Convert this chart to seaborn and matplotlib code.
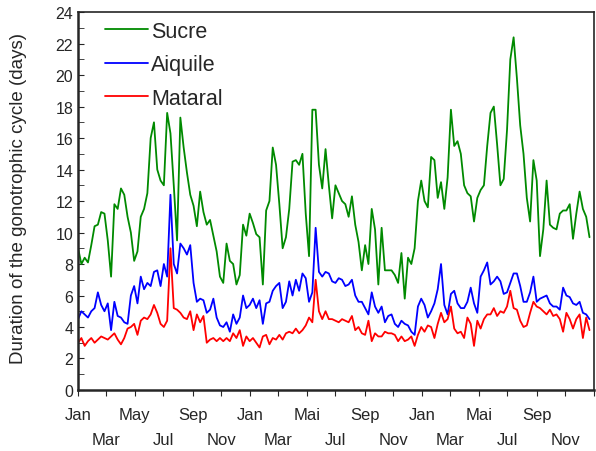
import matplotlib
matplotlib.use("Agg")
import matplotlib.pyplot as plt
import seaborn as sns
import numpy as np
import pandas as pd

# weekly estimates, three years Jan -> Dec
sucre = [9.0, 8.0, 8.4, 8.1, 9.2, 10.4, 10.5, 11.3, 11.2, 9.5, 7.2, 11.8, 11.5, 12.8, 12.4, 11.0,
         10.0, 8.2, 8.8, 11.0, 11.5, 12.5, 16.0, 17.0, 14.0, 13.3, 13.0, 17.6, 16.3, 13.0, 9.5, 17.3,
         15.4, 13.8, 12.4, 11.7, 10.4, 12.6, 11.3, 10.5, 10.8, 9.8, 8.8, 7.2, 6.8, 9.3, 8.2, 8.0,
         6.7, 7.3, 10.5, 9.8, 11.2, 10.6, 9.9, 9.7, 6.7, 11.4, 12.0, 15.4, 14.3, 11.8, 9.0, 9.7,
         11.5, 14.5, 14.6, 14.3, 15.0, 11.2, 8.5, 17.8, 17.8, 14.3, 12.8, 15.3, 13.0, 10.9, 13.0, 12.5,
         12.0, 11.8, 11.0, 12.3, 10.5, 9.4, 7.6, 9.2, 8.0, 11.5, 10.2, 6.7, 10.3, 7.6, 7.6, 7.6,
         7.3, 6.8, 8.7, 5.8, 8.4, 8.0, 9.0, 12.0, 13.3, 12.0, 11.6, 14.8, 14.6, 12.2, 13.2, 11.5,
         13.5, 17.8, 15.5, 15.8, 15.0, 13.0, 12.5, 12.3, 10.7, 12.2, 12.7, 13.0, 15.5, 17.6, 18.0, 15.6,
         13.0, 13.4, 16.5, 21.0, 22.4, 19.8, 16.8, 15.0, 12.2, 10.7, 14.6, 13.3, 8.5, 10.2, 13.3, 10.5,
         10.3, 10.2, 11.2, 11.4, 11.4, 11.8, 9.6, 11.2, 12.6, 11.5, 11.0, 9.7]
aiquile = [4.5, 5.0, 4.8, 4.6, 5.0, 5.2, 6.2, 5.4, 5.0, 5.5, 3.8, 5.6, 4.7, 4.6, 4.3, 4.2,
           6.0, 6.6, 5.5, 7.2, 6.4, 6.8, 6.6, 7.5, 7.6, 6.6, 8.0, 7.2, 12.4, 8.0, 7.4, 9.3,
           9.0, 8.6, 9.2, 6.8, 5.6, 5.8, 5.7, 4.9, 5.1, 5.8, 4.6, 4.1, 4.0, 4.3, 3.7, 4.8,
           4.2, 4.6, 6.0, 5.2, 5.4, 5.8, 5.2, 5.7, 4.2, 5.5, 5.6, 6.3, 6.6, 6.8, 5.2, 5.6,
           6.9, 6.0, 7.0, 6.3, 7.4, 7.1, 5.6, 6.2, 10.3, 7.5, 7.2, 7.5, 7.4, 6.9, 6.8, 7.1,
           7.0, 6.6, 6.7, 7.0, 6.0, 5.6, 5.6, 5.2, 4.8, 6.2, 5.3, 4.9, 5.3, 4.3, 4.7, 4.8,
           4.2, 4.0, 4.4, 4.2, 4.1, 3.7, 3.5, 5.3, 5.8, 5.4, 4.6, 5.0, 5.5, 6.4, 8.0, 5.4,
           4.8, 6.1, 6.3, 5.5, 5.2, 5.2, 5.6, 6.5, 5.5, 4.9, 7.2, 7.6, 8.1, 6.7, 6.9, 7.2,
           6.9, 6.1, 6.2, 6.8, 7.4, 7.4, 6.6, 5.6, 5.6, 6.2, 7.2, 5.6, 5.8, 5.9, 6.0, 5.5,
           5.3, 5.3, 5.1, 6.5, 6.0, 5.9, 5.5, 5.4, 5.6, 4.9, 4.8, 4.5]
mataral = [3.0, 3.3, 2.8, 3.1, 3.3, 3.0, 3.2, 3.4, 3.3, 3.2, 3.4, 3.6, 3.2, 2.9, 3.3, 3.9,
           4.0, 4.2, 3.5, 4.4, 4.6, 4.5, 4.8, 5.4, 4.9, 4.2, 4.0, 4.4, 9.0, 5.2, 5.1, 4.9,
           4.6, 4.5, 5.0, 3.8, 4.8, 4.3, 4.7, 3.0, 3.2, 3.3, 3.1, 3.3, 3.1, 3.3, 3.1, 3.6,
           3.3, 3.8, 2.8, 3.4, 3.1, 3.3, 3.0, 2.7, 3.4, 3.5, 2.9, 3.3, 3.2, 3.5, 3.2, 3.6,
           3.7, 3.6, 3.9, 3.6, 3.8, 4.1, 4.6, 4.3, 7.0, 5.0, 4.5, 5.0, 4.5, 4.5, 4.4, 4.3,
           4.5, 4.4, 4.3, 4.7, 3.8, 4.0, 3.6, 3.5, 4.4, 3.1, 3.6, 3.4, 3.4, 3.7, 3.6, 3.6,
           3.5, 3.1, 3.4, 3.1, 3.2, 3.4, 2.8, 3.5, 4.0, 3.7, 4.1, 4.0, 3.3, 4.2, 4.9, 4.3,
           4.5, 5.3, 3.9, 3.6, 3.7, 3.3, 4.6, 4.2, 2.8, 4.4, 3.9, 4.5, 4.8, 4.8, 5.2, 4.7,
           5.0, 4.9, 5.3, 6.3, 5.2, 5.1, 4.4, 4.0, 4.1, 4.9, 5.6, 5.3, 5.2, 5.0, 4.8, 5.1,
           4.7, 4.8, 4.5, 3.7, 4.9, 4.5, 3.9, 4.5, 4.8, 3.3, 4.6, 3.8]

dates = pd.date_range('2001-01-01', periods=len(sucre), freq='7D')
month_ticks = pd.date_range('2001-01-01', '2004-01-01', freq='2MS')
# tick labels as printed on the original (year 1 "May", later years "Mai")
tick_names = ['Jan', 'Mar', 'May', 'Jul', 'Sep', 'Nov',
              'Jan', 'Mar', 'Mai', 'Jul', 'Sep', 'Nov',
              'Jan', 'Mar', 'Mai', 'Jul', 'Sep', 'Nov', '']

sns.set_style('ticks')
plt.rcParams['font.family'] = ['Liberation Sans', 'DejaVu Sans']

fig = plt.figure(figsize=(5.96, 4.52), dpi=100)
ax = fig.add_axes([0.131, 0.135, 0.866, 0.836])

series = [('Sucre', sucre, '#008a00'), ('Aiquile', aiquile, '#0000ff'), ('Mataral', mataral, '#ff0000')]
for name, vals, col in series:
    sns.lineplot(x=dates, y=vals, ax=ax, color=col, linewidth=1.3, label=name)

ax.set_xlim(pd.Timestamp('2001-01-01'), pd.Timestamp('2004-01-01'))
ax.set_ylim(0, 24)
ax.set_yticks(np.arange(0, 25, 2))
ax.set_yticks(np.arange(0, 25, 1), minor=True)
ax.tick_params(axis='y', which='both', direction='in', length=4, labelsize=11.5)

ax.set_xticks(month_ticks)
labels = [nm if i % 2 == 0 else '\n' + nm for i, nm in enumerate(tick_names)]
ax.set_xticklabels(labels)
ax.tick_params(axis='x', direction='out', length=4, labelsize=12, pad=8)
for t in ax.get_xticklabels():
    t.set_linespacing(1.9)
    t.set_verticalalignment('top')

ax.set_xlabel('')
ax.set_ylabel('Duration of the gonotrophic cycle (days)', fontsize=13.5)
ax.yaxis.set_label_coords(-0.098, 0.51)

for s in ax.spines.values():
    s.set_linewidth(1.2)
ax.spines['left'].set_linewidth(1.8)
ax.spines['bottom'].set_linewidth(1.8)

ax.legend(loc='upper left', frameon=False, fontsize=15.5, handlelength=2.0,
          handletextpad=0.15, labelspacing=0.58, borderaxespad=0.0,
          bbox_to_anchor=(0.035, 1.0))

fig.savefig('out.png', dpi=100)
